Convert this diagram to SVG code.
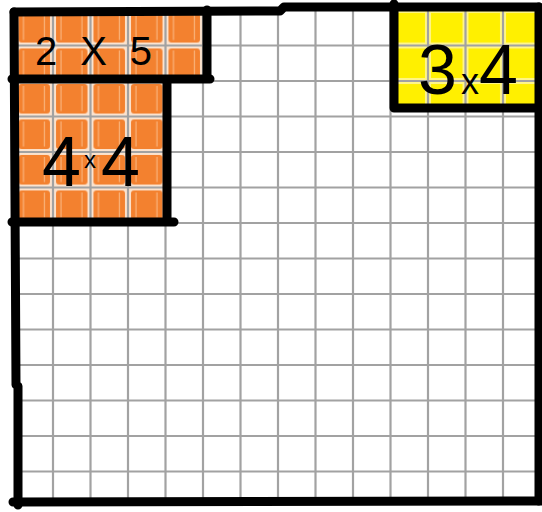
<svg xmlns="http://www.w3.org/2000/svg" width="542" height="512" viewBox="0 0 542 512">
  <style>
    .grid line { stroke: #a2a2a2; stroke-width: 2.2; }
    .thick { fill: none; stroke: #000; stroke-width: 9; stroke-linecap: round; stroke-linejoin: round; }
    .label { font-family: "Liberation Sans", Arial, sans-serif; fill: #000; }
  </style>
  <defs>
    <pattern id="orangeTile" patternUnits="userSpaceOnUse" x="15.5" y="10" width="37.5" height="35.5">
      <rect width="37.5" height="35.5" fill="#fbe3cf"/>
      <rect x="3" y="3" width="31.5" height="29.5" rx="3" fill="#f3812f"/>
      <path d="M8 5 V30 M29 5 V30" stroke="#f9b27a" stroke-width="1.2" fill="none"/>
    </pattern>
    <pattern id="yellowTile" patternUnits="userSpaceOnUse" x="15.5" y="10" width="37.5" height="35.5">
      <rect width="37.5" height="35.5" fill="#fff58a"/>
      <rect x="3" y="3" width="31.5" height="29.5" fill="#fff000"/>
    </pattern>
  </defs>
  <rect width="542" height="512" fill="#fff"/>

  <g id="box-2x5-fill">
    <rect x="17" y="10" width="186" height="71" fill="url(#orangeTile)"/>
  </g>
  <g id="box-4x4-fill">
    <rect x="17" y="81" width="148.5" height="142" fill="url(#orangeTile)"/>
  </g>
  <g id="box-3x4-fill">
    <rect x="390.5" y="8" width="150" height="100" fill="url(#yellowTile)"/>
  </g>

  <g id="grid" class="grid">
    <line x1="53" y1="8" x2="53" y2="500"/>
    <line x1="90.5" y1="8" x2="90.5" y2="500"/>
    <line x1="128" y1="8" x2="128" y2="500"/>
    <line x1="165.5" y1="8" x2="165.5" y2="500"/>
    <line x1="203" y1="8" x2="203" y2="500"/>
    <line x1="240.5" y1="8" x2="240.5" y2="500"/>
    <line x1="278" y1="8" x2="278" y2="500"/>
    <line x1="315.5" y1="8" x2="315.5" y2="500"/>
    <line x1="353" y1="8" x2="353" y2="500"/>
    <line x1="390.5" y1="8" x2="390.5" y2="500"/>
    <line x1="428" y1="8" x2="428" y2="500"/>
    <line x1="465.5" y1="8" x2="465.5" y2="500"/>
    <line x1="503" y1="8" x2="503" y2="500"/>
    <line x1="17" y1="45.5" x2="540" y2="45.5"/>
    <line x1="17" y1="81" x2="540" y2="81"/>
    <line x1="17" y1="116.5" x2="540" y2="116.5"/>
    <line x1="17" y1="152" x2="540" y2="152"/>
    <line x1="17" y1="187.5" x2="540" y2="187.5"/>
    <line x1="17" y1="223" x2="540" y2="223"/>
    <line x1="17" y1="258.5" x2="540" y2="258.5"/>
    <line x1="17" y1="294" x2="540" y2="294"/>
    <line x1="17" y1="329.5" x2="540" y2="329.5"/>
    <line x1="17" y1="365" x2="540" y2="365"/>
    <line x1="17" y1="400.5" x2="540" y2="400.5"/>
    <line x1="17" y1="436" x2="540" y2="436"/>
    <line x1="17" y1="471.5" x2="540" y2="471.5"/>
  </g>

  <g id="frame">
    <path class="thick" d="M14 12 L16 385 L18 386 L18 505"/>
    <path class="thick" d="M14 12 L280 11 L284 7 L539 7"/>
    <path class="thick" d="M539 7 L539 501"/>
    <path class="thick" d="M13 502 L542 501"/>
  </g>

  <g id="box-2x5">
    <path class="thick" d="M12 79 L210 79 M207 10 L207 79"/>
    <text class="label" x="35" y="65" font-size="40" textLength="117" lengthAdjust="spacing">2 X 5</text>
  </g>

  <g id="box-4x4">
    <path class="thick" d="M167 80 L167 222 M12 222 L174 222"/>
    <text class="label" x="42" y="186" font-size="70">4<tspan font-size="24" dx="3" dy="-18">x</tspan><tspan dx="5" dy="18">4</tspan></text>
  </g>

  <g id="box-3x4">
    <path class="thick" d="M394 4 L394 108 L540 108"/>
    <text class="label" x="418" y="94" font-size="70">3<tspan font-size="36" dx="4">x</tspan>4</text>
  </g>
</svg>
